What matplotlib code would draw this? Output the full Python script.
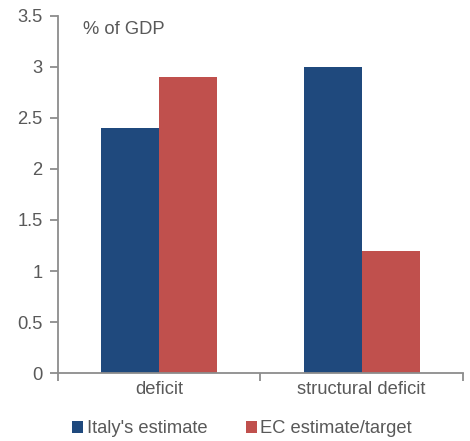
import matplotlib
matplotlib.use("Agg")
import matplotlib.pyplot as plt
import numpy as np

plt.rcParams['font.family'] = ['Liberation Sans', 'DejaVu Sans']

categories = ["deficit", "structural deficit"]
italy = [2.4, 3.0]
ec = [2.9, 1.2]
series_names = ["Italy's estimate", "EC estimate/target"]
yticks = [0, 0.5, 1, 1.5, 2, 2.5, 3, 3.5]
ytick_labels = ["0", "0.5", "1", "1.5", "2", "2.5", "3", "3.5"]

blue = "#1F497D"
red = "#C0504D"
grey = "#8C8C8C"
txt = "#595959"
fs = 13.2

fig = plt.figure(figsize=(4.7, 4.41), dpi=100)
ax = fig.add_axes([0.123, 0.154, 0.862, 0.81])

x = np.arange(len(categories))
w = 0.287
b1 = ax.bar(x - w / 2, italy, w, color=blue, label=series_names[0])
b2 = ax.bar(x + w / 2, ec, w, color=red, label=series_names[1])

ax.set_xlim(-0.5, 1.5)
ax.set_ylim(0, 3.5)
ax.set_yticks(yticks)
ax.set_yticklabels(ytick_labels)
ax.set_xticks([-0.5, 0.5, 1.5])
ax.set_xticklabels([])
ax.set_xticks(x, minor=True)
ax.set_xticklabels(categories, minor=True)

for s in ["top", "right"]:
    ax.spines[s].set_visible(False)
for s in ["left", "bottom"]:
    ax.spines[s].set_color(grey)
    ax.spines[s].set_linewidth(1.3)

ax.tick_params(axis="y", direction="out", length=6, width=1.3, color=grey,
               labelsize=fs, labelcolor=txt, pad=5)
ax.tick_params(axis="x", which="major", direction="out", length=6, width=1.3, color=grey)
ax.tick_params(axis="x", which="minor", length=0, labelsize=fs, labelcolor=txt, pad=6)

ax.text(0.062, 0.985, "% of GDP", transform=ax.transAxes, fontsize=fs,
        color=txt, ha="left", va="top")

leg = fig.legend(handles=[b1, b2], loc="center", bbox_to_anchor=(0.515, 0.028),
                 ncol=2, frameon=False, fontsize=fs, handlelength=0.6,
                 handleheight=0.6, handletextpad=0.2, columnspacing=2.1)
for t in leg.get_texts():
    t.set_color(txt)

fig.savefig("out.png", dpi=100)
